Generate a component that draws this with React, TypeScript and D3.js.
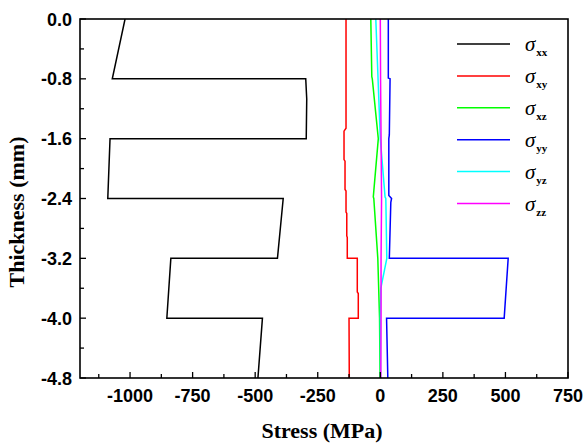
import React from "react";
import * as d3 from "d3";

const W = 586;
const H = 446;

const xTicks = [-1000, -750, -500, -250, 0, 250, 500, 750];
const yTicks = [0, -0.8, -1.6, -2.4, -3.2, -4.0, -4.8];
const xMinor = [-1125, -875, -625, -375, -125, 125, 375, 625];
const yMinor = [-0.4, -1.2, -2.0, -2.8, -3.6, -4.4];

const sxxT = [0, -0.8, -0.8, -1.07, -1.6, -1.6, -2.4, -2.4, -3.2, -3.2, -4.0, -4.0, -4.8];
const sxxV = [-1020, -1071, -298, -294, -296, -1080, -1089, -388, -411, -837, -853, -471, -489];

const sxyT = [0, -1.46, -1.5, -1.88, -1.9, -2.28, -2.3, -2.58, -2.6, -2.9, -2.92, -3.2, -3.2, -3.65, -3.67, -4.0, -4.0, -4.8];
const sxyV = [-137, -137, -145, -145, -141, -141, -137, -137, -134, -134, -132, -132, -92, -92, -88, -88, -125, -124];

const sxzT = [0, -0.77, -0.8, -1.6, -2.38, -2.4, -3.2, -4.0, -4.8];
const sxzV = [-38, -34, -32, -8, -28, -26, -10, -3, -1];

const syyT = [0, -0.79, -0.8, -1.55, -1.6, -2.36, -2.4, -2.45, -3.2, -3.2, -4.0, -4.0, -4.8];
const syyV = [32, 32, 39, 36, 34, 34, 45, 42, 36, 511, 495, 25, 30];

const syzT = [0, -1.6, -2.38, -2.4, -3.2, -3.6, -4.0, -4.8];
const syzV = [-18, 0, 19, 22, 26, 2, 0, 1];

const szzT = [0, -0.8, -1.6, -2.4, -3.2, -4.0, -4.8];
const szzV = [0, 1, 3, 5, 3, 3, 2];

const seriesNames = ["xx", "xy", "xz", "yy", "yz", "zz"];
const seriesColors = ["#000000", "#ff0000", "#00ff00", "#0000ff", "#00ffff", "#ff00ff"];
const seriesT = [sxxT, sxyT, sxzT, syyT, syzT, szzT];
const seriesV = [sxxV, sxyV, sxzV, syyV, syzV, szzV];

export default function App() {
  const left = 80, right = 568, top = 19, bottom = 378;
  const x = d3.scaleLinear().domain([-1200, 750]).range([left, right]);
  const y = d3.scaleLinear().domain([-4.8, 0]).range([bottom, top]);
  const line = d3
    .line<[number, number]>()
    .x((d) => x(d[1]))
    .y((d) => y(d[0]));

  const tickFont = "'Liberation Sans', Arial, sans-serif";
  const serif = "'Liberation Serif', 'Times New Roman', serif";

  return (
    <svg
      width={W}
      height={H}
      style={{ position: "absolute", left: 0, top: 0, background: "#fff" }}
    >
      <rect x={0} y={0} width={W} height={H} fill="#fff" />
      <defs>
        <clipPath id="plotclip">
          <rect x={left} y={top} width={right - left} height={bottom - top} />
        </clipPath>
      </defs>
      <g clipPath="url(#plotclip)">
        {seriesT.map((ts, i) => (
          <path
            key={i}
            d={line(ts.map((t, j) => [t, seriesV[i][j]] as [number, number])) || ""}
            fill="none"
            stroke={seriesColors[i]}
            strokeWidth={1.5}
          />
        ))}
      </g>
      <rect
        x={left}
        y={top}
        width={right - left}
        height={bottom - top}
        fill="none"
        stroke="#000"
        strokeWidth={1.6}
      />
      {xTicks.map((t) => (
        <g key={"xt" + t}>
          <line x1={x(t)} x2={x(t)} y1={bottom} y2={bottom - 6} stroke="#000" strokeWidth={1.3} />
          <text
            x={x(t)}
            y={402}
            textAnchor="middle"
            fontFamily={tickFont}
            fontWeight="bold"
            fontSize={18}
          >
            {t}
          </text>
        </g>
      ))}
      {xMinor.map((t) => (
        <line key={"xm" + t} x1={x(t)} x2={x(t)} y1={bottom} y2={bottom - 4} stroke="#000" strokeWidth={1.3} />
      ))}
      {yTicks.map((t) => (
        <g key={"yt" + t}>
          <line x1={left} x2={left + 6} y1={y(t)} y2={y(t)} stroke="#000" strokeWidth={1.3} />
          <text
            x={72}
            y={y(t) + 6.5}
            textAnchor="end"
            fontFamily={tickFont}
            fontWeight="bold"
            fontSize={18}
          >
            {t.toFixed(1)}
          </text>
        </g>
      ))}
      {yMinor.map((t) => (
        <line key={"ym" + t} x1={left} x2={left + 4} y1={y(t)} y2={y(t)} stroke="#000" strokeWidth={1.3} />
      ))}
      <text
        x={322}
        y={438}
        textAnchor="middle"
        fontFamily={serif}
        fontWeight="bold"
        fontSize={22}
      >
        Stress (MPa)
      </text>
      <text
        transform="translate(24,212) rotate(-90)"
        textAnchor="middle"
        fontFamily={serif}
        fontWeight="bold"
        fontSize={22}
      >
        Thickness (mm)
      </text>
      {seriesNames.map((n, i) => {
        const ly = 44 + i * 31.9;
        return (
          <g key={"lg" + n}>
            <line x1={457} x2={510} y1={ly} y2={ly} stroke={seriesColors[i]} strokeWidth={1.5} />
            <text x={525} y={ly + 7} fontFamily={serif} fontStyle="italic" fontSize={21}>
              σ
              <tspan dx={1} dy={5} fontStyle="normal" fontWeight="bold" fontSize={11}>
                {n}
              </tspan>
            </text>
          </g>
        );
      })}
    </svg>
  );
}
